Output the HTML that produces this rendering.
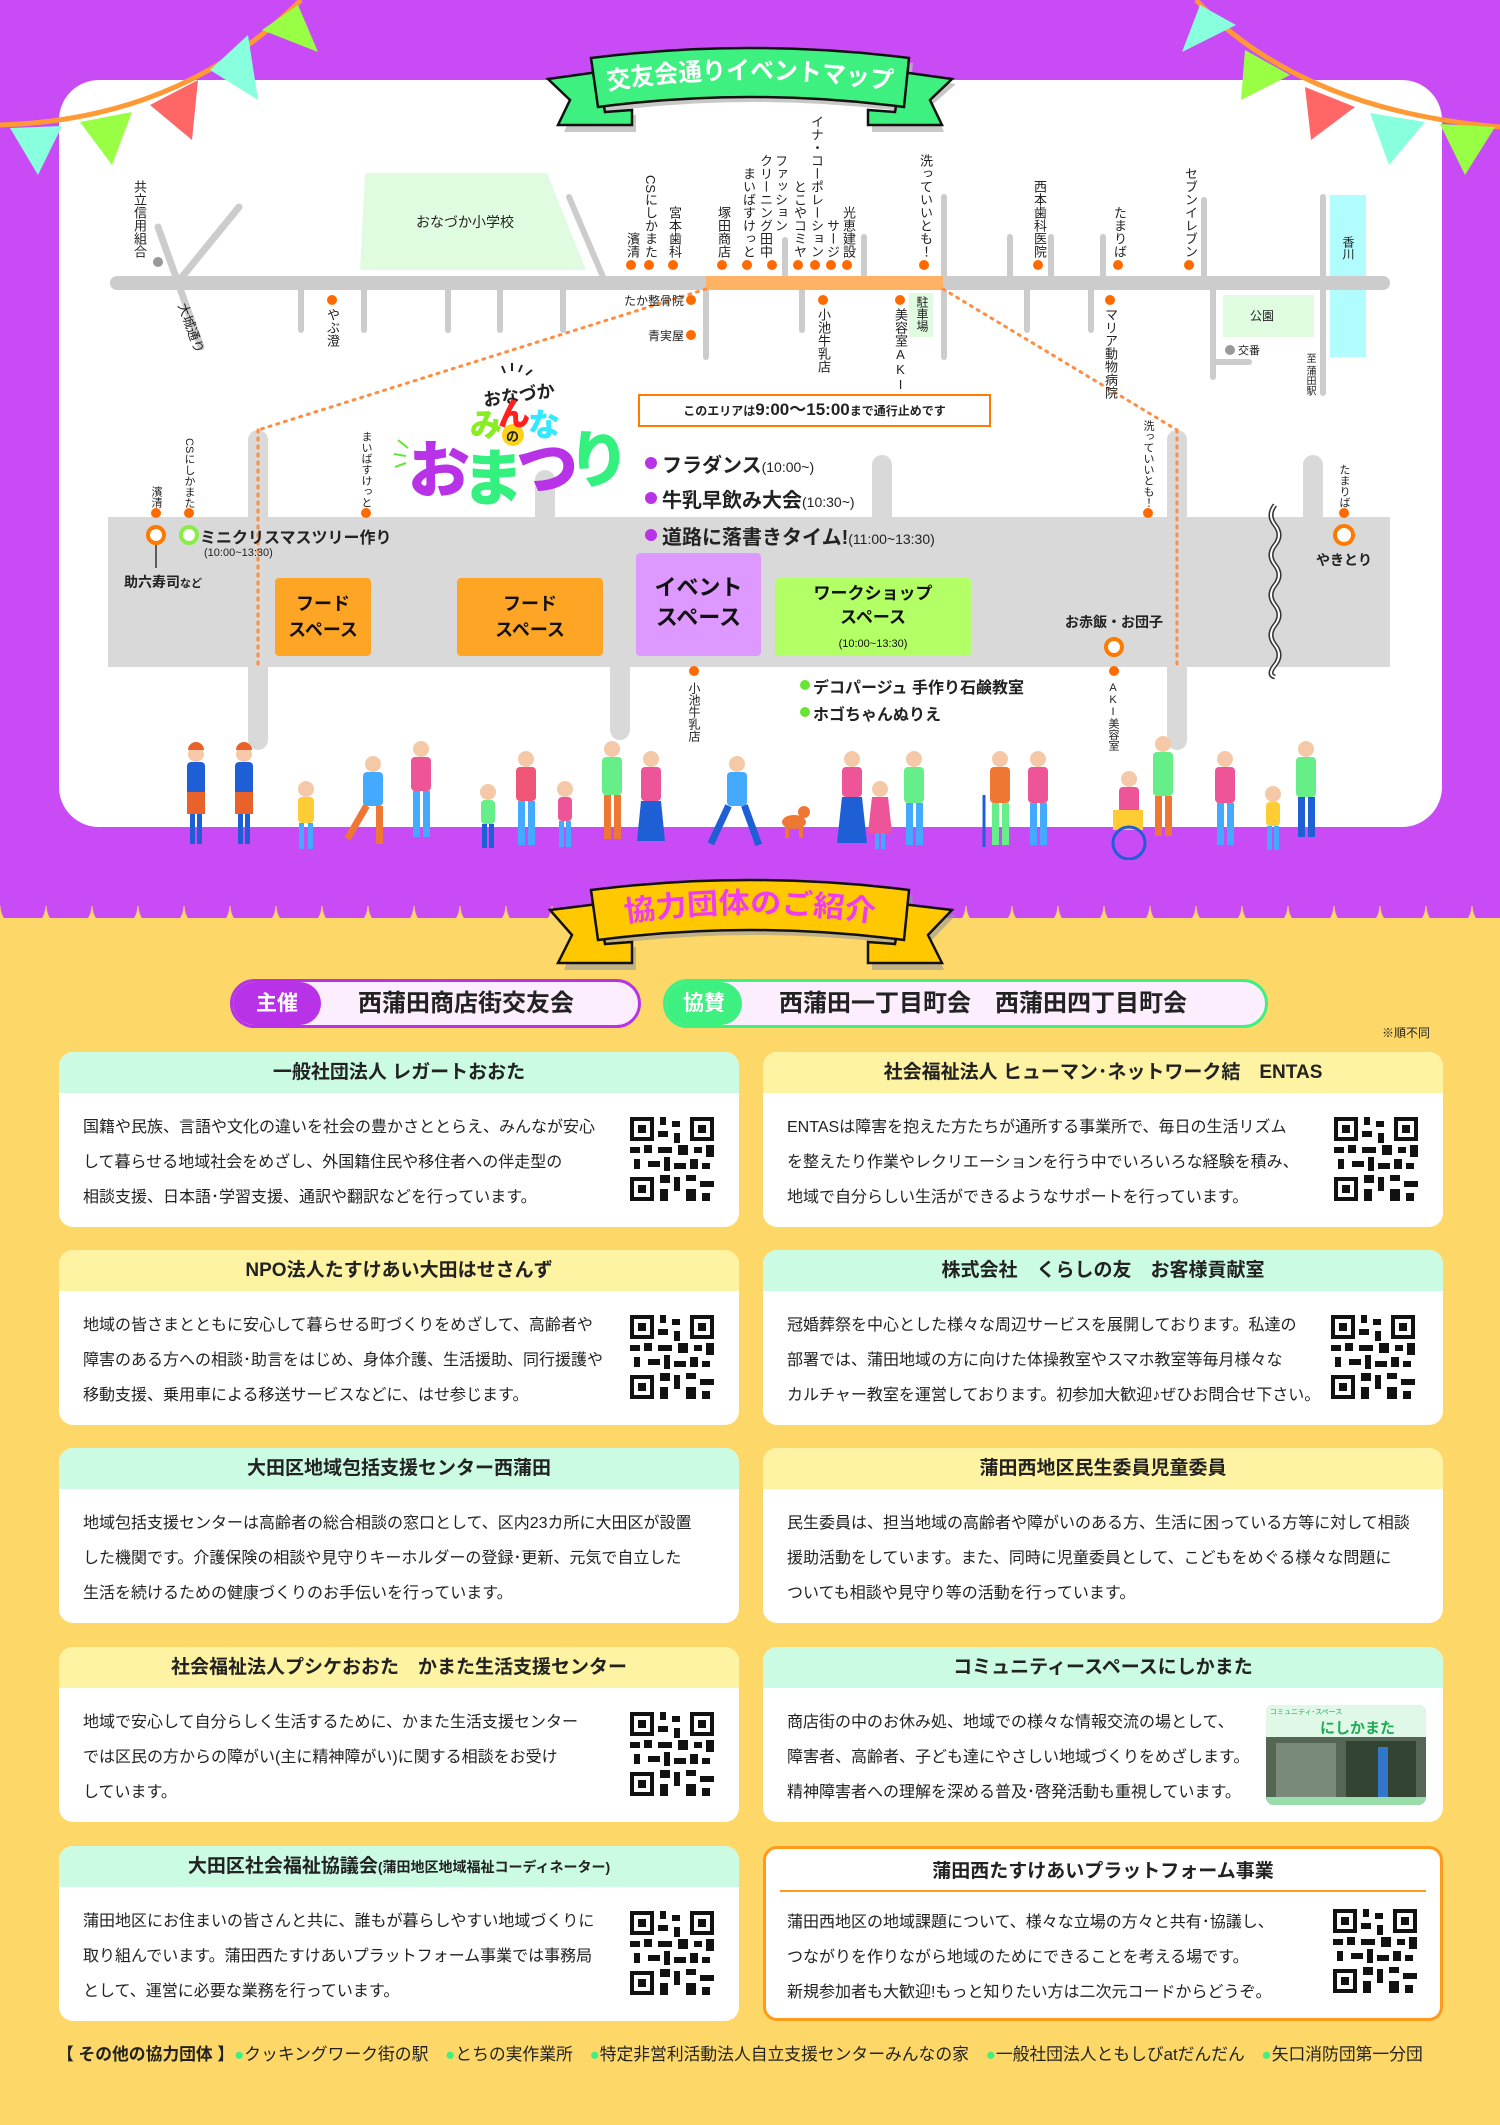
<!DOCTYPE html>
<html><head><meta charset="utf-8">
<style>
*{margin:0;padding:0;box-sizing:border-box}
body{width:1500px;height:2125px;position:relative;overflow:hidden;background:#fdd868;font-family:"Liberation Sans","Noto Sans CJK JP",sans-serif;color:#222}
.a{position:absolute}
.v{position:absolute;writing-mode:vertical-rl;font-size:13px;line-height:14px;white-space:nowrap;color:#222}
.up{text-orientation:upright}
.card{position:absolute;width:680px;height:175px;background:#fff;border-radius:14px;overflow:hidden}
.card .h{height:41px;line-height:41px;text-align:center;font-weight:bold;font-size:19px}
.card .b{position:absolute;left:24px;top:75px;font-size:16px;line-height:35px;white-space:nowrap;color:#222}
.card .b div{height:35px}
.mint{background:#ccfbe4}.yel{background:#fef3a3}
.qr{position:absolute;top:76px;left:571px;width:84px;height:84px}
.box{position:absolute;text-align:center;font-weight:bold;color:#111;border-radius:4px}
</style></head><body>
<div class="a" style="left:0;top:0;width:1500px;height:906px;background:#c84bf5"></div>
<div class="a" style="left:0;top:906px;width:1500px;height:12px;background:radial-gradient(circle at 23px 0,#c84bf5 22px,transparent 23px) repeat-x;background-size:46px 12px"></div>
<div class="a" style="left:59px;top:80px;width:1383px;height:747px;background:#fff;border-radius:40px"></div>

<svg class="a" style="left:0;top:0" width="1500" height="1000" viewBox="0 0 1500 1000">
 <path d="M0 125 Q180 120 301 0" stroke="#ff9933" stroke-width="5" fill="none"/>
 <polygon points="10,128 62,126 38,175" fill="#88ffdd"/>
 <polygon points="80,122 132,112 112,165" fill="#99ff44"/>
 <polygon points="150,105 198,80 192,140" fill="#ff6666"/>
 <polygon points="210,70 248,35 258,100" fill="#88ffdd"/>
 <polygon points="262,30 298,5 318,52" fill="#99ff44"/>
 <path d="M1196 0 Q1300 110 1500 127" stroke="#ff9933" stroke-width="5" fill="none"/>
 <polygon points="1200,5 1236,25 1182,52" fill="#88ffdd"/>
 <polygon points="1245,50 1290,75 1241,100" fill="#99ff44"/>
 <polygon points="1305,87 1355,107 1311,140" fill="#ff6666"/>
 <polygon points="1370,113 1425,122 1389,165" fill="#88ffdd"/>
 <polygon points="1440,124 1495,127 1465,175" fill="#99ff44"/>
 <g transform="translate(4,5)" fill="#bbb" opacity=".8"><path d="M548 79 L598 72 L605 112 L632 110 L632 127 L560 127 L572 100Z"/><path d="M952 79 L902 72 L895 112 L868 110 L868 127 L940 127 L928 100Z"/><path d="M591 58 Q750 38 909 58 L904 107 Q750 87 598 107Z"/></g>
 <path d="M548 79 L598 72 L605 112 L632 110 L632 125 L558 125 L570 100Z" fill="#3ef07f" stroke="#111" stroke-width="2.5"/>
 <path d="M952 79 L902 72 L895 112 L868 110 L868 125 L942 125 L930 100Z" fill="#3ef07f" stroke="#111" stroke-width="2.5"/>
 <path d="M591 58 Q750 38 909 58 L904 107 Q750 87 598 107Z" fill="#3ef07f" stroke="#111" stroke-width="2.5"/>
 <path id="arc1" d="M595 92 Q750 66 905 92" fill="none"/>
 <text font-family="Liberation Sans,Noto Sans CJK JP,sans-serif" font-weight="bold" font-size="25" fill="#fff" text-anchor="middle"><textPath href="#arc1" startOffset="50%" textLength="285" lengthAdjust="spacingAndGlyphs">交友会通りイベントマップ</textPath></text>
 <g transform="translate(0,880)">
 <g transform="translate(4,5)" fill="#999" opacity=".6"><path d="M550 30 L598 24 L605 64 L632 62 L632 85 L560 85 L572 55Z"/><path d="M952 30 L902 24 L895 64 L868 62 L868 85 L940 85 L928 55Z"/><path d="M591 10 Q750 -10 909 10 L904 60 Q750 40 598 60Z"/></g>
 <path d="M550 30 L598 24 L605 64 L632 62 L632 83 L558 83 L572 55Z" fill="#ffc800" stroke="#111" stroke-width="2.5"/>
 <path d="M952 30 L902 24 L895 64 L868 62 L868 83 L942 83 L928 55Z" fill="#ffc800" stroke="#111" stroke-width="2.5"/>
 <path d="M591 10 Q750 -10 909 10 L904 60 Q750 40 598 60Z" fill="#ffc800" stroke="#111" stroke-width="2.5"/>
 <path id="arc2" d="M600 46 Q750 20 900 46" fill="none"/>
 <text font-family="Liberation Sans,Noto Sans CJK JP,sans-serif" font-weight="bold" font-size="29" fill="#f03cf0" text-anchor="middle"><textPath href="#arc2" startOffset="50%" textLength="250" lengthAdjust="spacingAndGlyphs">協力団体のご紹介</textPath></text>
 </g>

 <polygon points="365,173 547,173 586,270 360,270" fill="#e0fce0"/>
 <polygon points="1223,295 1314,295 1314,337 1223,337" fill="#e0fce0"/>
 <rect x="909" y="293" width="24" height="44" fill="#e0fce0"/>
 <rect x="1330" y="195" width="36" height="162" fill="#b0fcff"/>
 <g stroke="#cccccc" stroke-linecap="round" fill="none">
  <line x1="117" y1="283" x2="1383" y2="283" stroke-width="14"/>
  <line x1="158" y1="227" x2="201" y2="347" stroke-width="7"/>
  <line x1="239" y1="207" x2="182" y2="277" stroke-width="7"/>
  <line x1="569" y1="197" x2="603" y2="277" stroke-width="6"/>
  <g stroke-width="6">
  <line x1="301" y1="290" x2="301" y2="330"/><line x1="364" y1="290" x2="364" y2="330"/><line x1="448" y1="290" x2="448" y2="330"/><line x1="500" y1="290" x2="500" y2="330"/><line x1="563" y1="290" x2="563" y2="330"/>
  <line x1="706" y1="290" x2="706" y2="357"/><line x1="802" y1="290" x2="802" y2="330"/><line x1="944" y1="197" x2="944" y2="357"/><line x1="1027" y1="290" x2="1027" y2="330"/><line x1="1091" y1="290" x2="1091" y2="330"/>
  <polyline points="1213,290 1213,377"/><line x1="1213" y1="362" x2="1249" y2="362"/><line x1="1323" y1="197" x2="1323" y2="393"/>
  <line x1="785" y1="240" x2="785" y2="277"/><line x1="864" y1="237" x2="864" y2="277"/><line x1="1010" y1="237" x2="1010" y2="277"/><line x1="1051" y1="237" x2="1051" y2="277"/><line x1="1103" y1="237" x2="1103" y2="277"/><line x1="1204" y1="200" x2="1204" y2="277"/>
  </g>
 </g>
 <rect x="706" y="276" width="237" height="14" fill="#ffb266"/>
 <circle cx="158" cy="262" r="5" fill="#999"/><circle cx="1230" cy="350" r="5" fill="#999"/>
 <g fill="#ff6a00">
  <circle cx="631" cy="265" r="5"/><circle cx="649" cy="265" r="5"/><circle cx="673" cy="265" r="5"/><circle cx="722" cy="265" r="5"/><circle cx="747" cy="265" r="5"/><circle cx="772" cy="265" r="5"/><circle cx="798" cy="265" r="5"/><circle cx="815" cy="265" r="5"/><circle cx="831" cy="265" r="5"/><circle cx="847" cy="265" r="5"/><circle cx="924" cy="265" r="5"/><circle cx="1038" cy="265" r="5"/><circle cx="1118" cy="265" r="5"/><circle cx="1189" cy="265" r="5"/>
  <circle cx="691" cy="300" r="5"/><circle cx="691" cy="335" r="5"/><circle cx="332" cy="300" r="5"/><circle cx="823" cy="300" r="5"/><circle cx="900" cy="300" r="5"/><circle cx="1110" cy="300" r="5"/>
 </g>
 <g stroke="#ff8c40" stroke-width="3" stroke-dasharray="2 6" stroke-linecap="round" fill="none">
  <line x1="706" y1="289" x2="258" y2="430"/><line x1="943" y1="289" x2="1177" y2="430"/>
 </g>

 <g stroke="#d9d9d9" stroke-width="20" stroke-linecap="round">
  <line x1="258" y1="440" x2="258" y2="740"/><line x1="545" y1="480" x2="545" y2="520"/><line x1="620" y1="660" x2="620" y2="730"/><line x1="882" y1="465" x2="882" y2="520"/><line x1="1177" y1="440" x2="1177" y2="740"/><line x1="1313" y1="465" x2="1313" y2="520"/>
 </g>
 <rect x="108" y="517" width="1282" height="150" fill="#d9d9d9"/>
 <g stroke="#ff8c40" stroke-width="3" stroke-dasharray="2 6" stroke-linecap="round"><line x1="258" y1="430" x2="258" y2="667"/><line x1="1177" y1="430" x2="1177" y2="667"/></g>
 <path d="M1275 505 q-8 10 0 20 q8 10 0 20 q-8 10 0 20 q8 10 0 20 q-8 10 0 20 q8 10 0 20 q-8 10 0 20 q8 10 0 20 q-8 10 0 12" stroke="#333" stroke-width="5" fill="none"/>
 <path d="M1275 505 q-8 10 0 20 q8 10 0 20 q-8 10 0 20 q8 10 0 20 q-8 10 0 20 q8 10 0 20 q-8 10 0 20 q8 10 0 20 q-8 10 0 12" stroke="#fff" stroke-width="2" fill="none"/>
 <g fill="#ff6a00"><circle cx="156" cy="513" r="5"/><circle cx="189" cy="513" r="5"/><circle cx="366" cy="513" r="5"/><circle cx="1148" cy="513" r="5"/><circle cx="1344" cy="513" r="5"/><circle cx="694" cy="671" r="5"/><circle cx="1114" cy="671" r="5"/></g>
 <line x1="156" y1="540" x2="156" y2="568" stroke="#333" stroke-width="1.5"/>
 <circle cx="156" cy="535" r="8" fill="#fff" stroke="#ff7a00" stroke-width="4"/>
 <circle cx="189" cy="535" r="8" fill="#fff" stroke="#88ee44" stroke-width="4"/>
 <circle cx="1344" cy="535" r="9" fill="#fff" stroke="#ff7a00" stroke-width="4"/>
 <circle cx="1114" cy="647" r="8" fill="#fff" stroke="#ff7a00" stroke-width="4"/>
 <g fill="#b833e8"><circle cx="651" cy="463" r="6"/><circle cx="651" cy="498" r="6"/><circle cx="651" cy="535" r="6"/></g>
 <g fill="#66e633"><circle cx="805" cy="685" r="5"/><circle cx="805" cy="712" r="5"/></g>
 <circle cx="513" cy="435" r="11" fill="#ffd21a"/>
 <g stroke="#222" stroke-width="2"><line x1="505" y1="373" x2="502" y2="366"/><line x1="512" y1="371" x2="512" y2="363"/><line x1="519" y1="372" x2="522" y2="365"/><line x1="526" y1="375" x2="532" y2="370"/></g>
 <g stroke="#66e633" stroke-width="2"><line x1="408" y1="448" x2="398" y2="440"/><line x1="406" y1="456" x2="394" y2="454"/><line x1="406" y1="463" x2="395" y2="467"/></g>
 <text x="483" y="402" font-family="Liberation Sans,Noto Sans CJK JP,sans-serif" font-weight="bold" font-size="18" fill="#222" transform="rotate(-8 515 395)">おなづか</text>
 <text font-family="Liberation Sans,Noto Sans CJK JP,sans-serif" font-weight="900" font-size="32"><tspan x="470" y="436" fill="#88ee22">み</tspan><tspan x="498" y="425" fill="#ff2020">ん</tspan><tspan x="528" y="436" fill="#33e8ff">な</tspan></text>
 <text x="506" y="441" font-family="Liberation Sans,Noto Sans CJK JP,sans-serif" font-weight="bold" font-size="13" fill="#222">の</text>
 <text font-family="Liberation Sans,Noto Sans CJK JP,sans-serif" font-weight="900" font-size="62"><tspan x="408" y="492" fill="#b833e8">お</tspan><tspan x="462" y="500" fill="#33f07f">ま</tspan><tspan x="516" y="490" fill="#b833e8">つ</tspan><tspan x="568" y="482" fill="#33f07f">り</tspan></text>
</svg>

<div class="a" style="left:360px;top:212px;width:210px;text-align:center;font-size:14px">おなづか小学校</div>
<div class="v" style="left:132px;bottom:1867px">共立信用組合</div>
<div class="v" style="left:625px;bottom:1867px">濱清</div>
<div class="v" style="left:643px;bottom:1867px">CSにしかまた</div>
<div class="v" style="left:667px;bottom:1867px">宮本歯科</div>
<div class="v" style="left:716px;bottom:1867px">塚田商店</div>
<div class="v" style="left:741px;bottom:1867px">まいばすけっと</div>
<div class="v" style="left:758px;bottom:1867px;line-height:15px">ファッション<br>クリーニング田中</div>
<div class="v" style="left:792px;bottom:1867px">とこやコミヤ</div>
<div class="v" style="left:809px;bottom:1867px">イナ・コーポレーション</div>
<div class="v" style="left:825px;bottom:1867px">サージ</div>
<div class="v" style="left:841px;bottom:1867px">光恵建設</div>
<div class="v" style="left:918px;bottom:1867px">洗っていいとも！</div>
<div class="v" style="left:1032px;bottom:1867px">西本歯科医院</div>
<div class="v" style="left:1112px;bottom:1867px">たまりば</div>
<div class="v" style="left:1183px;bottom:1867px">セブンイレブン</div>
<div class="v" style="left:325px;top:308px">やぶ澄</div>
<div class="v" style="left:816px;top:308px">小池牛乳店</div>
<div class="v up" style="left:893px;top:308px">美容室AKI</div>
<div class="v" style="left:915px;top:296px;font-size:12px">駐車場</div>
<div class="v" style="left:1103px;top:308px">マリア動物病院</div>
<div class="v" style="left:1304px;top:353px;font-size:10px;line-height:11px">至 蒲田駅</div>
<div class="v" style="left:1341px;top:236px;font-size:12px">香川</div>
<div class="a" style="left:1250px;top:307px;font-size:12px">公園</div>
<div class="a" style="left:1238px;top:342px;font-size:11px">交番</div>
<div class="a" style="top:300px;font-size:13px;transform:rotate(70deg);transform-origin:left top;white-space:nowrap;left:192px">大城通り</div>
<div class="a" style="left:590px;top:292px;width:94px;text-align:right;font-size:12px">たか整骨院</div>
<div class="a" style="left:590px;top:327px;width:94px;text-align:right;font-size:12px">青実屋</div>
<div class="a" style="left:638px;top:394px;width:353px;height:33px;border:2.5px solid #ff7a00;text-align:center;line-height:28px;font-size:12px;font-weight:bold;background:#fff">このエリアは<span style="font-size:17px">9:00～15:00</span>まで通行止めです</div>

<div class="v" style="left:150px;bottom:1617px;font-size:11px;line-height:12px">濱清</div>
<div class="v" style="left:183px;bottom:1617px;font-size:11px;line-height:12px">CSにしかまた</div>
<div class="v" style="left:360px;bottom:1617px;font-size:11px;line-height:12px">まいばすけっと</div>
<div class="v" style="left:1142px;bottom:1617px;font-size:11px;line-height:12px">洗っていいとも！</div>
<div class="v" style="left:1338px;bottom:1617px;font-size:11px;line-height:12px">たまりば</div>
<div class="a" style="left:200px;top:524px;font-size:16px;font-weight:bold;white-space:nowrap">ミニクリスマスツリー作り</div>
<div class="a" style="left:204px;top:547px;font-size:11px">(10:00~13:30)</div>
<div class="a" style="left:124px;top:572px;font-size:14px;font-weight:bold;white-space:nowrap">助六寿司<span style="font-size:11px">など</span></div>
<div class="a" style="left:1316px;top:550px;font-size:14px;font-weight:bold">やきとり</div>
<div class="a" style="left:1063px;top:612px;width:102px;text-align:center;font-size:14px;font-weight:bold;white-space:nowrap">お赤飯・お団子</div>
<div class="v" style="left:687px;top:682px;font-size:12px">小池牛乳店</div>
<div class="v up" style="left:1107px;top:682px;font-size:11px;line-height:12px">AKI美容室</div>
<div class="a" style="left:662px;top:449px;font-size:20px;font-weight:bold;white-space:nowrap">フラダンス<span style="font-size:14px;font-weight:normal">(10:00~)</span></div>
<div class="a" style="left:662px;top:484px;font-size:20px;font-weight:bold;white-space:nowrap">牛乳早飲み大会<span style="font-size:14px;font-weight:normal">(10:30~)</span></div>
<div class="a" style="left:662px;top:521px;font-size:20px;font-weight:bold;white-space:nowrap">道路に落書きタイム!<span style="font-size:14px;font-weight:normal">(11:00~13:30)</span></div>
<div class="a" style="left:813px;top:674px;font-size:16px;font-weight:bold;white-space:nowrap">デコパージュ 手作り石鹸教室</div>
<div class="a" style="left:813px;top:701px;font-size:16px;font-weight:bold;white-space:nowrap">ホゴちゃんぬりえ</div>
<div class="box" style="left:275px;top:578px;width:96px;height:78px;background:#ffa526;font-size:18px;line-height:26px;padding-top:13px">フード<br>スペース</div>
<div class="box" style="left:457px;top:578px;width:146px;height:78px;background:#ffa526;font-size:18px;line-height:26px;padding-top:13px">フード<br>スペース</div>
<div class="box" style="left:636px;top:553px;width:125px;height:103px;background:#dd99ff;font-size:22px;line-height:30px;padding-top:20px">イベント<br>スペース</div>
<div class="box" style="left:775px;top:578px;width:196px;height:78px;background:#b3ff66;font-size:17px;line-height:24px;padding-top:4px">ワークショップ<br>スペース<br><span style="font-size:11px;font-weight:normal">(10:00~13:30)</span></div>

<svg class="a" style="left:0;top:730px" width="1500" height="130" viewBox="0 0 1500 130">
<defs><g id="p"><circle cy="14" r="8" fill="#f5c9a8"/></g></defs>
<g transform="translate(196,10)"><use href="#p"/><path d="M-8 10a8 8 0 0 1 16 0z" fill="#e8622a"/><rect x="-9" y="22" width="18" height="34" rx="4" fill="#1f5fd6"/><rect x="-9" y="52" width="18" height="22" fill="#e8622a"/><rect x="-6" y="74" width="5" height="30" fill="#1f5fd6"/><rect x="1" y="74" width="5" height="30" fill="#1f5fd6"/></g>
<g transform="translate(244,10)"><use href="#p"/><path d="M-8 10a8 8 0 0 1 16 0z" fill="#e8622a"/><rect x="-9" y="22" width="18" height="34" rx="4" fill="#1f5fd6"/><rect x="-9" y="52" width="18" height="22" fill="#e8622a"/><rect x="-6" y="74" width="5" height="30" fill="#1f5fd6"/><rect x="1" y="74" width="5" height="30" fill="#1f5fd6"/></g>
<g transform="translate(306,45)"><use href="#p"/><rect x="-8" y="22" width="16" height="26" rx="4" fill="#ffcc33"/><rect x="-7" y="48" width="5" height="26" fill="#44aaff"/><rect x="2" y="48" width="5" height="26" fill="#44aaff"/></g>
<g transform="translate(373,20)"><use href="#p"/><rect x="-10" y="22" width="20" height="34" rx="4" fill="#44aaff"/><rect x="-10" y="56" width="7" height="38" fill="#ee7733" transform="rotate(30 -6 56)"/><rect x="3" y="56" width="7" height="38" fill="#ee7733"/></g>
<g transform="translate(421,5)"><use href="#p"/><rect x="-10" y="22" width="20" height="34" rx="4" fill="#ee5599"/><rect x="-8" y="56" width="7" height="46" fill="#44aaff"/><rect x="2" y="56" width="7" height="46" fill="#44aaff"/></g>
<g transform="translate(488,48)"><use href="#p"/><rect x="-7" y="22" width="14" height="24" rx="4" fill="#66ee88"/><rect x="-6" y="46" width="5" height="24" fill="#1f5fd6"/><rect x="1" y="46" width="5" height="24" fill="#1f5fd6"/></g>
<g transform="translate(526,15)"><use href="#p"/><rect x="-10" y="22" width="20" height="34" rx="4" fill="#ee5577"/><rect x="-8" y="56" width="7" height="44" fill="#44aaff"/><rect x="2" y="56" width="7" height="44" fill="#44aaff"/></g>
<g transform="translate(565,45)"><use href="#p"/><rect x="-7" y="22" width="14" height="24" rx="4" fill="#ee5599"/><rect x="-6" y="46" width="5" height="26" fill="#44aaff"/><rect x="1" y="46" width="5" height="26" fill="#44aaff"/></g>
<g transform="translate(612,5)"><use href="#p"/><rect x="-10" y="22" width="20" height="38" rx="4" fill="#66ee88"/><rect x="-8" y="60" width="7" height="44" fill="#ee7733"/><rect x="2" y="60" width="7" height="44" fill="#ee7733"/></g>
<g transform="translate(651,15)"><use href="#p"/><rect x="-10" y="22" width="20" height="34" rx="4" fill="#ee5599"/><path d="M-10 56h20l4 40h-28z" fill="#1f5fd6"/></g>
<g transform="translate(737,20)"><use href="#p"/><rect x="-10" y="22" width="20" height="34" rx="4" fill="#44aaff"/><rect x="-12" y="56" width="7" height="42" fill="#1f5fd6" transform="rotate(25 -8 56)"/><rect x="4" y="56" width="7" height="42" fill="#1f5fd6" transform="rotate(-20 6 56)"/></g>
<g transform="translate(794,80)"><ellipse cx="0" cy="12" rx="12" ry="7" fill="#ee7733"/><circle cx="10" cy="2" r="6" fill="#ee7733"/><rect x="-9" y="16" width="4" height="12" fill="#ee7733"/><rect x="5" y="16" width="4" height="12" fill="#ee7733"/></g>
<g transform="translate(852,15)"><use href="#p"/><rect x="-10" y="22" width="20" height="30" rx="4" fill="#ee5599"/><path d="M-10 52h20l5 46h-30z" fill="#1f5fd6"/></g>
<g transform="translate(880,45)"><use href="#p"/><path d="M-8 22h16l4 36h-24z" fill="#ee5599"/><rect x="-5" y="58" width="4" height="16" fill="#44aaff"/><rect x="1" y="58" width="4" height="16" fill="#44aaff"/></g>
<g transform="translate(914,15)"><use href="#p"/><rect x="-10" y="22" width="20" height="36" rx="4" fill="#66ee88"/><rect x="-8" y="58" width="7" height="42" fill="#44aaff"/><rect x="2" y="58" width="7" height="42" fill="#44aaff"/></g>
<g transform="translate(1000,15)"><use href="#p"/><rect x="-10" y="22" width="20" height="36" rx="4" fill="#ee7733"/><rect x="-8" y="58" width="7" height="42" fill="#66ee88"/><rect x="2" y="58" width="7" height="42" fill="#66ee88"/><line x1="-16" y1="50" x2="-16" y2="102" stroke="#1f5fd6" stroke-width="3"/></g>
<g transform="translate(1038,15)"><use href="#p"/><rect x="-10" y="22" width="20" height="36" rx="4" fill="#ee5599"/><rect x="-8" y="58" width="7" height="42" fill="#44aaff"/><rect x="2" y="58" width="7" height="42" fill="#44aaff"/></g>
<g transform="translate(1129,35)"><use href="#p"/><rect x="-10" y="22" width="20" height="30" rx="4" fill="#ee5599"/><rect x="-16" y="45" width="30" height="20" fill="#ffcc33"/><circle cx="0" cy="78" r="16" fill="none" stroke="#1f5fd6" stroke-width="3"/></g>
<g transform="translate(1163,0)"><use href="#p"/><rect x="-10" y="22" width="20" height="44" rx="4" fill="#66ee88"/><rect x="-8" y="66" width="7" height="40" fill="#ee7733"/><rect x="2" y="66" width="7" height="40" fill="#ee7733"/></g>
<g transform="translate(1225,15)"><use href="#p"/><rect x="-10" y="22" width="20" height="36" rx="4" fill="#ee5599"/><rect x="-8" y="58" width="7" height="42" fill="#44aaff"/><rect x="2" y="58" width="7" height="42" fill="#44aaff"/></g>
<g transform="translate(1273,50)"><use href="#p"/><rect x="-7" y="22" width="14" height="24" rx="4" fill="#ffcc33"/><rect x="-6" y="46" width="5" height="24" fill="#44aaff"/><rect x="1" y="46" width="5" height="24" fill="#44aaff"/></g>
<g transform="translate(1306,5)"><use href="#p"/><rect x="-10" y="22" width="20" height="40" rx="4" fill="#66ee88"/><rect x="-8" y="62" width="7" height="40" fill="#1f5fd6"/><rect x="2" y="62" width="7" height="40" fill="#1f5fd6"/></g>
</svg>

<div class="a" style="left:230px;top:979px;width:411px;height:49px;border:3px solid #b833e8;border-radius:25px;background:#fdeefe;overflow:hidden">
 <div class="a" style="left:0;top:0;width:88px;height:43px;background:#b833e8;border-radius:0 22px 22px 0;color:#fff;font-weight:bold;font-size:21px;line-height:43px;text-align:center">主催</div>
 <div class="a" style="left:125px;top:0;line-height:43px;font-size:24px;font-weight:bold;white-space:nowrap">西蒲田商店街交友会</div>
</div>
<div class="a" style="left:663px;top:979px;width:605px;height:49px;border:3px solid #3ef07f;border-radius:25px;background:#fdeefe;overflow:hidden">
 <div class="a" style="left:0;top:0;width:76px;height:43px;background:#3ef07f;border-radius:0 22px 22px 0;color:#fff;font-weight:bold;font-size:21px;line-height:43px;text-align:center">協賛</div>
 <div class="a" style="left:113px;top:0;line-height:43px;font-size:24px;font-weight:bold;white-space:nowrap">西蒲田一丁目町会　西蒲田四丁目町会</div>
</div>
<div class="a" style="left:1382px;top:1024px;font-size:12px">※順不同</div>

<svg width="0" height="0" style="position:absolute"><defs><g id="qr">
<rect width="84" height="84" fill="#fff"/>
<g fill="#111"><rect x="0" y="0" width="24" height="24"/><rect x="60" y="0" width="24" height="24"/><rect x="0" y="60" width="24" height="24"/></g>
<g fill="#fff"><rect x="4" y="4" width="16" height="16"/><rect x="64" y="4" width="16" height="16"/><rect x="4" y="64" width="16" height="16"/></g>
<g fill="#111"><rect x="8" y="8" width="8" height="8"/><rect x="68" y="8" width="8" height="8"/><rect x="8" y="68" width="8" height="8"/>
<rect x="30" y="0" width="6" height="8"/><rect x="42" y="4" width="8" height="6"/><rect x="28" y="14" width="10" height="6"/><rect x="44" y="16" width="6" height="10"/>
<rect x="0" y="30" width="10" height="6"/><rect x="14" y="28" width="8" height="8"/><rect x="28" y="30" width="14" height="6"/><rect x="48" y="28" width="10" height="10"/><rect x="64" y="30" width="8" height="6"/><rect x="76" y="28" width="8" height="12"/>
<rect x="4" y="42" width="6" height="10"/><rect x="18" y="44" width="12" height="6"/><rect x="34" y="40" width="6" height="14"/><rect x="44" y="46" width="12" height="6"/><rect x="60" y="42" width="8" height="10"/><rect x="72" y="46" width="8" height="6"/>
<rect x="30" y="58" width="10" height="8"/><rect x="44" y="60" width="6" height="14"/><rect x="56" y="58" width="10" height="6"/><rect x="70" y="64" width="14" height="6"/><rect x="30" y="72" width="8" height="12"/><rect x="56" y="72" width="10" height="12"/><rect x="72" y="76" width="8" height="8"/></g>
</g></defs></svg>

<div class="card" style="left:59px;top:1052px"><div class="h mint">一般社団法人 レガートおおた</div><div class="b" style="top:58px"><div>国籍や民族、言語や文化の違いを社会の豊かさととらえ、みんなが安心</div><div>して暮らせる地域社会をめざし、外国籍住民や移住者への伴走型の</div><div>相談支援、日本語･学習支援、通訳や翻訳などを行っています。</div></div><svg class="qr" style="top:65px"><use href="#qr"/></svg></div>
<div class="card" style="left:763px;top:1052px"><div class="h yel">社会福祉法人 ヒューマン･ネットワーク結　ENTAS</div><div class="b" style="top:58px"><div>ENTASは障害を抱えた方たちが通所する事業所で、毎日の生活リズム</div><div>を整えたり作業やレクリエーションを行う中でいろいろな経験を積み、</div><div>地域で自分らしい生活ができるようなサポートを行っています。</div></div><svg class="qr" style="top:65px"><use href="#qr"/></svg></div>

<div class="card" style="left:59px;top:1250px"><div class="h yel">NPO法人たすけあい大田はせさんず</div><div class="b" style="top:58px"><div>地域の皆さまとともに安心して暮らせる町づくりをめざして、高齢者や</div><div>障害のある方への相談･助言をはじめ、身体介護、生活援助、同行援護や</div><div>移動支援、乗用車による移送サービスなどに、はせ参じます。</div></div><svg class="qr" style="top:65px"><use href="#qr"/></svg></div>
<div class="card" style="left:763px;top:1250px"><div class="h mint">株式会社　くらしの友　お客様貢献室</div><div class="b" style="top:58px"><div>冠婚葬祭を中心とした様々な周辺サービスを展開しております。私達の</div><div>部署では、蒲田地域の方に向けた体操教室やスマホ教室等毎月様々な</div><div>カルチャー教室を運営しております。初参加大歓迎♪ぜひお問合せ下さい。</div></div><svg class="qr" style="top:65px;left:568px"><use href="#qr"/></svg></div>

<div class="card" style="left:59px;top:1448px"><div class="h mint">大田区地域包括支援センター西蒲田</div><div class="b" style="top:58px"><div>地域包括支援センターは高齢者の総合相談の窓口として、区内23カ所に大田区が設置</div><div>した機関です。介護保険の相談や見守りキーホルダーの登録･更新、元気で自立した</div><div>生活を続けるための健康づくりのお手伝いを行っています。</div></div></div>
<div class="card" style="left:763px;top:1448px"><div class="h yel">蒲田西地区民生委員児童委員</div><div class="b" style="top:58px"><div>民生委員は、担当地域の高齢者や障がいのある方、生活に困っている方等に対して相談</div><div>援助活動をしています。また、同時に児童委員として、こどもをめぐる様々な問題に</div><div>ついても相談や見守り等の活動を行っています。</div></div></div>

<div class="card" style="left:59px;top:1647px"><div class="h yel">社会福祉法人プシケおおた　かまた生活支援センター</div><div class="b" style="top:58px"><div>地域で安心して自分らしく生活するために、かまた生活支援センター</div><div>では区民の方からの障がい(主に精神障がい)に関する相談をお受け</div><div>しています。</div></div><svg class="qr" style="top:65px"><use href="#qr"/></svg></div>
<div class="card" style="left:763px;top:1647px"><div class="h mint">コミュニティースペースにしかまた</div><div class="b" style="top:58px"><div>商店街の中のお休み処、地域での様々な情報交流の場として、</div><div>障害者、高齢者、子ども達にやさしい地域づくりをめざします。</div><div>精神障害者への理解を深める普及･啓発活動も重視しています。</div></div>
 <div class="a" style="left:503px;top:58px;width:160px;height:100px;border-radius:8px;overflow:hidden;background:#556655">
  <div class="a" style="left:0;top:0;width:160px;height:32px;background:#dff8e8"></div>
  <div class="a" style="left:54px;top:12px;font-size:15px;font-weight:bold;color:#22aa55">にしかまた</div>
  <div class="a" style="left:4px;top:2px;font-size:7px;color:#22aa55">コミュニティ･スペース</div>
  <div class="a" style="left:10px;top:38px;width:60px;height:60px;background:#7a8a7a"></div>
  <div class="a" style="left:80px;top:36px;width:70px;height:64px;background:#334433"></div>
  <div class="a" style="left:112px;top:42px;width:10px;height:50px;background:#3377cc"></div>
  <div class="a" style="left:0;top:92px;width:160px;height:8px;background:#99ddaa"></div>
 </div></div>

<div class="card" style="left:59px;top:1846px"><div class="h mint">大田区社会福祉協議会<span style="font-size:14px">(蒲田地区地域福祉コーディネーター)</span></div><div class="b" style="top:58px"><div>蒲田地区にお住まいの皆さんと共に、誰もが暮らしやすい地域づくりに</div><div>取り組んでいます。蒲田西たすけあいプラットフォーム事業では事務局</div><div>として、運営に必要な業務を行っています。</div></div><svg class="qr" style="top:65px"><use href="#qr"/></svg></div>
<div class="card" style="left:763px;top:1846px;border:3px solid #ff9a1a"><div class="h" style="margin:0 14px;border-bottom:2.5px solid #ff9a1a;height:43px;line-height:46px">蒲田西たすけあいプラットフォーム事業</div><div class="b" style="top:56px;left:21px"><div>蒲田西地区の地域課題について、様々な立場の方々と共有･協議し、</div><div>つながりを作りながら地域のためにできることを考える場です。</div><div>新規参加者も大歓迎!もっと知りたい方は二次元コードからどうぞ。</div></div><svg class="qr" style="top:60px;left:567px"><use href="#qr"/></svg></div>

<div class="a" style="left:57px;top:2041px;font-size:16.8px;white-space:nowrap;color:#222"><b>【 その他の協力団体 】</b><span style="color:#3ef07f">●</span>クッキングワーク街の駅　<span style="color:#3ef07f">●</span>とちの実作業所　<span style="color:#3ef07f">●</span>特定非営利活動法人自立支援センターみんなの家　<span style="color:#3ef07f">●</span>一般社団法人ともしびatだんだん　<span style="color:#3ef07f">●</span>矢口消防団第一分団</div>
</body></html>
